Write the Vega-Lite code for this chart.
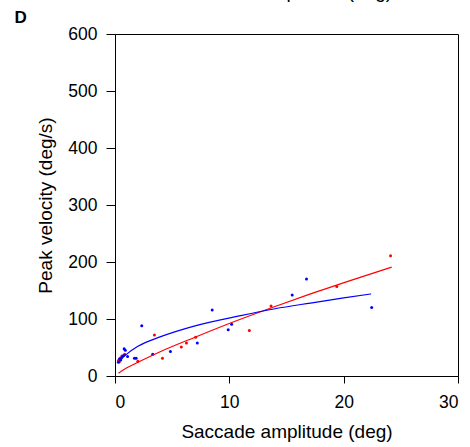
{
  "$schema": "https://vega.github.io/schema/vega-lite/v6.json",
  "width": 343,
  "height": 342,
  "autosize": {"type": "none"},
  "padding": {"left": 115, "top": 34, "right": 12, "bottom": 71},
  "background": "white",
  "config": {
    "font": "Liberation Sans",
    "view": {"stroke": "black", "strokeWidth": 1},
    "axis": {"grid": false, "domainColor": "black", "tickColor": "black", "labelColor": "black", "titleColor": "black", "titleFontWeight": "normal"}
  },
  "title": {"text": "Saccade amplitude (deg)", "frame": "group", "anchor": "middle", "baseline": "alphabetic", "offset": -8, "fontSize": 19, "fontWeight": "normal", "color": "black"},
  "datasets": {
    "pts": [
      {"amp": 0.3, "vel": 27, "group": "red"},
      {"amp": 0.38, "vel": 25, "group": "red"},
      {"amp": 0.44, "vel": 31, "group": "red"},
      {"amp": 0.5, "vel": 29, "group": "red"},
      {"amp": 0.6, "vel": 35, "group": "red"},
      {"amp": 0.85, "vel": 38, "group": "red"},
      {"amp": 2.0, "vel": 26, "group": "red"},
      {"amp": 3.45, "vel": 72, "group": "red"},
      {"amp": 4.15, "vel": 31, "group": "red"},
      {"amp": 5.8, "vel": 51, "group": "red"},
      {"amp": 6.25, "vel": 58, "group": "red"},
      {"amp": 7.05, "vel": 68, "group": "red"},
      {"amp": 11.75, "vel": 80, "group": "red"},
      {"amp": 13.65, "vel": 123, "group": "red"},
      {"amp": 19.4, "vel": 157, "group": "red"},
      {"amp": 24.1, "vel": 211, "group": "red"},
      {"amp": 0.3, "vel": 24, "group": "blue"},
      {"amp": 0.4, "vel": 30, "group": "blue"},
      {"amp": 0.5, "vel": 28, "group": "blue"},
      {"amp": 0.6, "vel": 33, "group": "blue"},
      {"amp": 0.75, "vel": 36, "group": "blue"},
      {"amp": 0.8, "vel": 48, "group": "blue"},
      {"amp": 0.9, "vel": 45, "group": "blue"},
      {"amp": 1.1, "vel": 34, "group": "blue"},
      {"amp": 1.7, "vel": 31, "group": "blue"},
      {"amp": 1.85, "vel": 31, "group": "blue"},
      {"amp": 2.34, "vel": 88, "group": "blue"},
      {"amp": 3.3, "vel": 38, "group": "blue"},
      {"amp": 4.85, "vel": 43, "group": "blue"},
      {"amp": 7.2, "vel": 58, "group": "blue"},
      {"amp": 8.5, "vel": 116, "group": "blue"},
      {"amp": 9.9, "vel": 81, "group": "blue"},
      {"amp": 10.2, "vel": 91, "group": "blue"},
      {"amp": 15.5, "vel": 142, "group": "blue"},
      {"amp": 16.75, "vel": 170, "group": "blue"},
      {"amp": 22.45, "vel": 120, "group": "blue"}
    ],
    "fit": [
      {"amp": 0.3, "vel": 5, "group": "red"},
      {"amp": 1, "vel": 14, "group": "red"},
      {"amp": 2, "vel": 24, "group": "red"},
      {"amp": 4, "vel": 43, "group": "red"},
      {"amp": 7, "vel": 68, "group": "red"},
      {"amp": 10.5, "vel": 96, "group": "red"},
      {"amp": 14, "vel": 122, "group": "red"},
      {"amp": 17.1, "vel": 144, "group": "red"},
      {"amp": 20.5, "vel": 167, "group": "red"},
      {"amp": 24.2, "vel": 191, "group": "red"},
      {"amp": 0.3, "vel": 24, "group": "blue"},
      {"amp": 0.6, "vel": 31, "group": "blue"},
      {"amp": 1, "vel": 38, "group": "blue"},
      {"amp": 2, "vel": 52, "group": "blue"},
      {"amp": 4, "vel": 69, "group": "blue"},
      {"amp": 7, "vel": 88, "group": "blue"},
      {"amp": 11, "vel": 106, "group": "blue"},
      {"amp": 14, "vel": 118, "group": "blue"},
      {"amp": 17.1, "vel": 128, "group": "blue"},
      {"amp": 20, "vel": 137, "group": "blue"},
      {"amp": 22.4, "vel": 144, "group": "blue"}
    ]
  },
  "resolve": {"axis": {"x": "independent"}},
  "layer": [
    {
      "data": {"name": "pts"},
      "mark": {"type": "circle", "size": 9, "opacity": 1},
      "encoding": {
        "x": {"field": "amp", "type": "quantitative", "scale": {"domain": [0, 30], "nice": false},
          "axis": {"orient": "bottom", "values": [0, 10, 20, 30], "tickSize": 7, "labelFontSize": 17.5, "labelPadding": 10, "title": "Saccade amplitude (deg)", "titleFontSize": 19, "titlePadding": 12}},
        "y": {"field": "vel", "type": "quantitative", "scale": {"domain": [0, 600], "nice": false},
          "axis": {"values": [0, 100, 200, 300, 400, 500, 600], "tickSize": 9, "labelFontSize": 17.5, "labelPadding": 9, "title": "Peak velocity (deg/s)", "titleFontSize": 19, "titlePadding": 12}},
        "color": {"field": "group", "type": "nominal", "scale": {"domain": ["red", "blue"], "range": ["#ff0000", "#0000ff"]}, "legend": null}
      }
    },
    {
      "data": {"name": "fit"},
      "mark": {"type": "line", "strokeWidth": 1.2, "interpolate": "monotone"},
      "encoding": {
        "x": {"field": "amp", "type": "quantitative",
          "axis": {"orient": "top", "labels": false, "ticks": false, "domain": false, "title": "D", "titleFontSize": 17, "titleFontWeight": "bold", "titleAnchor": "start", "titleAlign": "left", "titleBaseline": "alphabetic", "titleX": -101, "titleY": -11.3}},
        "y": {"field": "vel", "type": "quantitative"},
        "color": {"field": "group", "type": "nominal", "legend": null},
        "detail": {"field": "group"}
      }
    }
  ]
}
